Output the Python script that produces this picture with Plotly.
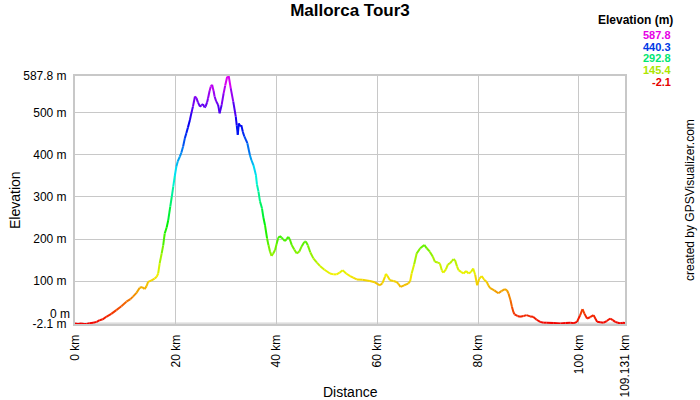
import colorsys
import plotly.graph_objects as go

title = "Mallorca Tour3"
dist_km = [0.0, 0.6, 1.2, 1.8, 2.3, 2.9, 3.6, 4.3, 4.9, 5.5, 6.2, 7.2, 8.2, 9.2, 10.2, 11.0, 11.5, 12.2,
           12.85, 13.3, 13.8, 14.2, 14.5, 15.1, 15.8, 16.2, 16.5, 16.8, 17.2, 17.5, 17.8, 18.2, 18.5, 18.9,
           19.2, 19.5, 19.8, 20.1, 20.4, 20.8, 21.1, 21.45, 21.8, 22.1, 22.4, 22.8, 23.1, 23.4, 23.8, 24.1,
           24.4, 24.8, 25.1, 25.4, 25.7, 25.9, 26.2, 26.4, 26.7, 26.95, 27.2, 27.5, 27.7, 28.0, 28.4, 28.7,
           29.1, 29.5, 29.8, 30.2, 30.5, 30.9, 31.4, 31.9, 32.1, 32.3, 32.5, 32.8, 33.0, 33.3, 33.6, 34.2,
           34.7, 35.0, 35.4, 35.9, 36.1, 36.4, 36.7, 37.1, 37.4, 37.7, 38.1, 38.4, 38.7, 39.0, 39.3, 39.7,
           40.0, 40.3, 40.65, 41.0, 41.3, 41.65, 42.0, 42.3, 42.6, 43.0, 43.5, 44.0, 44.5, 45.0, 45.5, 45.8,
           46.2, 46.7, 47.3, 48.0, 48.6, 49.5, 50.6, 51.3, 51.9, 52.5, 53.1, 53.8, 54.6, 55.2, 55.9, 57.0,
           58.5, 59.5, 60.5, 61.0, 61.5, 61.7, 62.0, 62.5, 63.2, 63.8, 64.2, 64.6, 65.3, 66.1, 66.5, 66.8,
           67.3, 67.8, 68.5, 69.3, 69.8, 70.4, 71.0, 71.4, 72.0, 72.4, 72.8, 73.1, 73.6, 74.0, 74.4, 74.8,
           75.1, 75.4, 75.8, 76.1, 76.6, 77.1, 77.6, 78.1, 78.6, 79.0, 79.4, 79.8, 80.2, 80.7, 81.2, 81.7,
           82.0, 82.4, 83.2, 84.0, 84.6, 85.3, 85.7, 86.0, 86.4, 86.7, 87.0, 87.2, 87.8, 88.3, 89.0, 89.6,
           90.3, 90.9, 91.6, 92.3, 93.0, 93.6, 95.0, 96.3, 97.3, 98.3, 99.0, 99.6, 100.2, 100.7, 101.1, 101.6,
           102.2, 102.9, 103.3, 103.6, 104.2, 104.9, 105.5, 106.2, 106.7, 107.2, 107.7, 108.2, 108.7, 109.131]
elev_m = [-1, -2, -1, -2.1, -2, 0, 1, 3, 7, 9, 15, 22, 31, 40, 51, 57, 63, 72,
          84, 86, 81, 88, 98, 101, 106, 110, 118, 142, 166, 185, 213, 228, 245, 277,
          300, 325, 350, 372, 385, 396, 405, 420, 440, 452, 465, 483, 500, 515, 539, 535,
          525, 515, 518, 521, 513, 515, 525, 535, 552, 563, 567, 552, 539, 528, 519, 499,
          519, 547, 565, 586, 587.8, 559, 527, 491, 470, 448, 475, 468, 471, 455, 444, 428,
          400, 388, 376, 352, 330, 313, 290, 273, 250, 233, 202, 185, 170, 160, 165, 174,
          188, 202, 207, 203, 200, 195, 200, 205, 200, 186, 175, 166, 170, 183, 193, 194,
          185, 168, 154, 144, 136, 127, 118, 116, 116, 120, 126, 118, 112, 108, 104, 103,
          100, 97, 90, 95, 110, 117, 112, 102, 100, 98, 93, 86, 90, 94, 100, 118,
          140, 166, 178, 186, 178, 170, 158, 146, 144, 142, 125, 120, 128, 140, 142, 148,
          152, 150, 135, 126, 122, 118, 124, 118, 122, 130, 115, 90, 105, 112, 103, 98,
          90, 83, 78, 71, 76, 81, 78, 71, 55, 39, 26, 21, 17, 15, 17, 19,
          16, 15, 8, 3, 1, 1, 0, -1, 0, 1, 0, 3, 18, 33, 22, 11,
          14, 19, 10, 3, 2, 1, 5, 11, 7, 3, 1, -1, 1, 0]

x_tickvals = [0, 20, 40, 60, 80, 100, 109.131]
x_ticktext = ["0 km", "20 km", "40 km", "60 km", "80 km", "100 km", "109.131 km"]
y_tickvals = [-2.1, 100, 200, 300, 400, 500, 587.8]
y_ticktext = ["-2.1 m", "100 m", "200 m", "300 m", "400 m", "500 m", "587.8 m"]
y_zero_label = "0 m"
x_title = "Distance"
y_title = "Elevation"
legend_title = "Elevation (m)"
legend_values = [587.8, 440.3, 292.8, 145.4, -2.1]
credit = "created by GPSVisualizer.com"

e_min, e_max = -2.1, 587.8
FONT = "Liberation Sans, Arial, sans-serif"


def elev_color(e, v=0.95):
    f = (e - e_min) / (e_max - e_min)
    f = min(max(f, 0), 1)
    r, g, b = colorsys.hsv_to_rgb(f * 300 / 360, 1, v)
    return "rgb(%d,%d,%d)" % (round(r * 255), round(g * 255), round(b * 255))


fig = go.Figure()
for i in range(len(dist_km) - 1):
    fig.add_trace(go.Scatter(
        x=dist_km[i:i + 2], y=elev_m[i:i + 2], mode="lines",
        line=dict(color=elev_color((elev_m[i] + elev_m[i + 1]) / 2), width=2),
        showlegend=False, hoverinfo="skip"))

grid = "#c8c8c8"
fig.update_layout(
    width=700, height=400,
    margin=dict(l=75, r=75, t=76, b=76),
    paper_bgcolor="white", plot_bgcolor="white",
    font=dict(family=FONT, size=12, color="black"),
    title=dict(text="<b>" + title + "</b>", x=0.5, xanchor="center", y=0.99, yanchor="top",
               font=dict(size=17, family=FONT)),
    xaxis=dict(range=[0, 109.131], tickmode="array", tickvals=x_tickvals, ticktext=x_ticktext,
               tickangle=-90, showgrid=True, gridcolor=grid, gridwidth=1, automargin=False,
               showline=True, linecolor=grid, linewidth=2, mirror=True, zeroline=False,
               ticks="", ticklabelstandoff=4, tickfont=dict(size=12)),
    yaxis=dict(range=[e_min, e_max], tickmode="array", tickvals=y_tickvals, ticktext=y_ticktext,
               showgrid=True, gridcolor=grid, gridwidth=1, automargin=False,
               showline=True, linecolor=grid, linewidth=2, mirror=True, zeroline=False,
               ticks="", ticklabelstandoff=4, tickfont=dict(size=12)),
)

# axis titles
fig.add_annotation(text=x_title, xref="paper", x=0.5, xanchor="center",
                   yref="paper", y=0, yshift=-68, yanchor="middle", showarrow=False,
                   font=dict(size=14, family=FONT))
fig.add_annotation(text=y_title, xref="paper", x=0, xshift=-60, xanchor="center",
                   yref="paper", y=0.5, yanchor="middle", textangle=-90, showarrow=False,
                   font=dict(size=14, family=FONT))

# 0 m grid line and label (shifted up as in the source)
fig.add_shape(type="line", xref="paper", x0=0, x1=1, yref="y", y0=0, y1=0,
              line=dict(color=grid, width=1), layer="below")
fig.add_annotation(text=y_zero_label, xref="paper", x=0, xanchor="right", xshift=-3,
                   yref="y", y=0, yshift=9, yanchor="middle", showarrow=False,
                   font=dict(size=12, family=FONT))

# right-side legend
fig.add_annotation(text="<b>" + legend_title + "</b>", xref="paper", x=1, xshift=50, xanchor="right",
                   yref="paper", y=1, yshift=56, yanchor="middle", showarrow=False,
                   font=dict(size=12, family=FONT))
for k, val in enumerate(legend_values):
    fig.add_annotation(text="<b>%.1f</b>" % val, xref="paper", x=1, xshift=48, xanchor="right",
                       yref="paper", y=1, yshift=41 - 11.7 * k, yanchor="middle", showarrow=False,
                       font=dict(size=11, family=FONT, color=elev_color(val, v=0.9)))

fig.add_annotation(text=credit, xref="paper", x=1, xshift=65, xanchor="center",
                   yref="paper", y=0.5, yshift=0, yanchor="middle", textangle=-90, showarrow=False,
                   font=dict(size=12, family=FONT))

fig.write_html("out.html", config={"displayModeBar": False},
               post_script="document.body.style.margin='0';")
